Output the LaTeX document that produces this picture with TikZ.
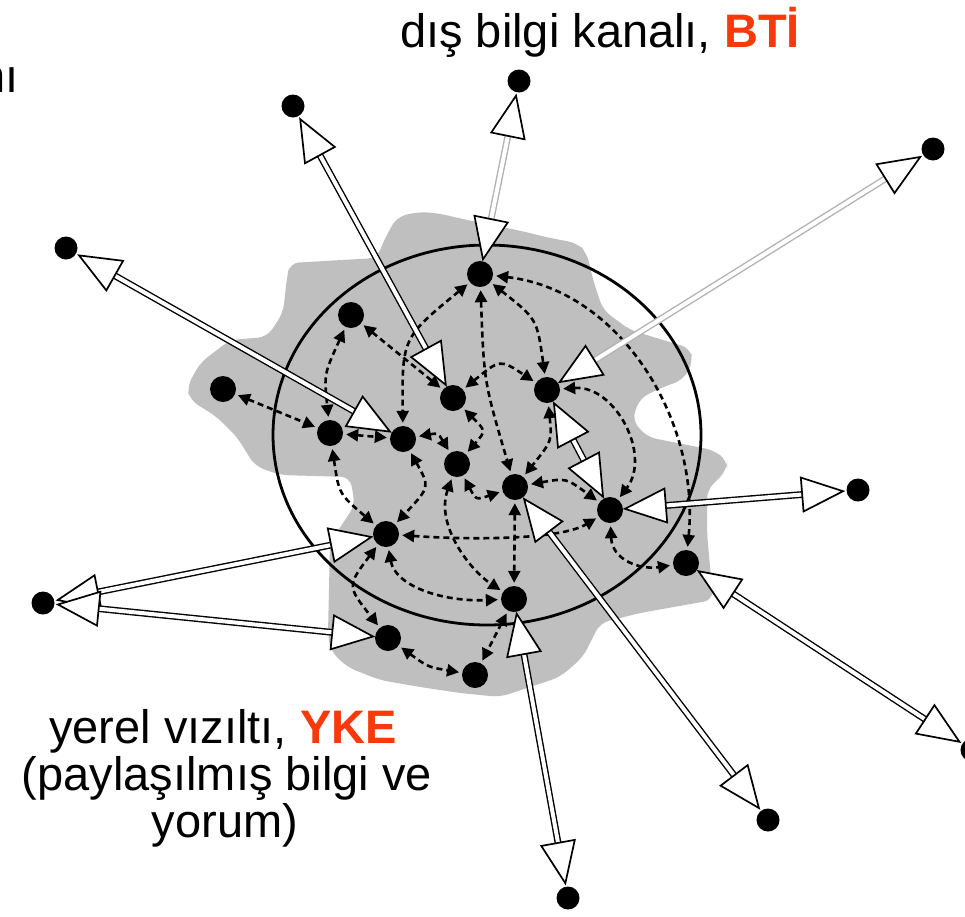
\documentclass[tikz,border=0pt]{standalone}
\usepackage{fontspec}
\setmainfont{Liberation Sans}
\usetikzlibrary{calc,arrows.meta}
\definecolor{hot}{RGB}{250,56,10}
\definecolor{blobgray}{RGB}{191,191,191}
\pgfdeclarelayer{back}
\pgfdeclarelayer{links}
\pgfsetlayers{back,links,main}

\tikzset{
  dot/.style={circle, fill=black, minimum size=26pt, inner sep=0pt},
  fardot/.style={circle, fill=black, minimum size=23pt, inner sep=0pt},
  dlink/.style={line width=2.6pt, dash pattern=on 6pt off 4pt,
    {Triangle[length=12pt,width=12pt]}-{Triangle[length=12pt,width=12pt]},
    shorten <=3pt, shorten >=3pt},
  shaft/.style={line width=1.4pt, double=white, double distance=4pt},
  headstyle/.style={fill=white, draw=black, line width=1.7pt, line join=miter},
  txt/.style={font=\fontsize{47}{47}\selectfont, inner sep=0pt},
}

% white arrow head whose tip sits next to node #1, pointing away from node #2
\newcommand\hollowhead[2]{%
  \coordinate (hb) at ($(#1)!56pt!(#2)$);
  \filldraw[headstyle] ($(#1)!15pt!(#2)$) -- ($(hb)!17pt!90:(#1)$)
    -- ($(hb)!17pt!-90:(#1)$) -- cycle;}
% two-headed hollow channel between two nodes
\newcommand\hollowlink[3][black]{%
  \draw[shaft, draw=#1] ($(#2)!50pt!(#3)$) -- ($(#3)!50pt!(#2)$);
  \hollowhead{#2}{#3}\hollowhead{#3}{#2}}

\begin{document}
\begin{tikzpicture}[x=1pt, y=-1pt]
\useasboundingbox (0,0) rectangle (965,916);

% ---- members of the local cluster ----
\node[dot] (A) at (480,274) {};
\node[dot] (B) at (351,315) {};
\node[dot] (C) at (223,389) {};
\node[dot] (D) at (453,398) {};
\node[dot] (E) at (547,390) {};
\node[dot] (F) at (330,433) {};
\node[dot] (G) at (403,439) {};
\node[dot] (H) at (457,464) {};
\node[dot] (I) at (515,487) {};
\node[dot] (J) at (610,510) {};
\node[dot] (K) at (386,534) {};
\node[dot] (L) at (686,563) {};
\node[dot] (M) at (514,599) {};
\node[dot] (N) at (388,638) {};
\node[dot] (P) at (475,675) {};

% ---- distant partners ----
\node[fardot] (O1) at (293,106) {};
\node[fardot] (O2) at (519,81) {};
\node[fardot] (O3) at (933,149) {};
\node[fardot] (O4) at (66,248) {};
\node[fardot] (O5) at (858,490) {};
\node[fardot] (O6) at (43,603) {};
\node[fardot] (O7) at (972,750) {};
\node[fardot] (O8) at (768,820) {};
\node[fardot] (O9) at (568,898) {};

% ---- texts ----
\node[txt, anchor=base] (top) at (600,47)
  {dış bilgi kanalı, \textcolor{hot}{\bfseries BTİ}};
\node[txt, anchor=base east] (cut) at (19,92) {nı};
\node[txt, anchor=base] (b1) at (223,743)
  {yerel vızıltı, \textcolor{hot}{\bfseries YKE}};
\node[txt, anchor=base] (b2) at (227,790) {(paylaşılmış bilgi ve};
\node[txt, anchor=base] (b3) at (225,837) {yorum)};

% ---- grey buzz area and the cluster boundary ----
\begin{pgfonlayer}{back}
  \fill[white] (0,0) rectangle (965,916);
  \fill[blobgray, rounded corners=9pt]
    (290,263) -- (377,258) -- (385,238) -- (397,217) -- (417,212) -- (437,213)
    -- (467,220) -- (517,230) -- (550,238) -- (577,243) -- (587,253)
    -- (593,280) -- (603,310) -- (630,330) -- (663,340) -- (690,348)
    -- (693,362) -- (683,380) -- (663,387) -- (640,398) -- (632,420)
    -- (647,437) -- (713,450) -- (727,460) -- (727,470) -- (707,490)
    -- (707,533) -- (713,600) -- (640,613) -- (600,623) -- (583,657)
    -- (560,677) -- (500,697) -- (460,693) -- (420,687) -- (380,680)
    -- (347,667) -- (330,650) -- (328,633) -- (330,543) -- (335,535)
    -- (355,505) -- (350,477) -- (280,475) -- (255,466) -- (237,437)
    -- (217,417) -- (190,400) -- (187,387) -- (200,363) -- (230,340)
    -- (267,337) -- (283,313) -- (287,277) -- cycle;
  \draw[line width=2.8pt] (487,435) ellipse [x radius=214, y radius=190];
\end{pgfonlayer}

\begin{pgfonlayer}{links}
  % local exchanges
  \draw[dlink] (C) -- (F);
  \draw[dlink] (F) -- (G);
  \draw[dlink] (B) .. controls (324,374) .. (F);
  \draw[dlink] (B) -- (D);
  \draw[dlink] (A) .. controls (402,338) .. (G);
  \draw[dlink] (A) .. controls (484,382) .. (I);
  \draw[dlink] (A) .. controls (537,319) .. (E);
  \draw[dlink] (A) .. controls (620,290) and (700,420) .. (L);
  \draw[dlink] (E) .. controls (615,385) and (652,455) .. (J);
  \draw[dlink] (E) .. controls (552,441) .. (I);
  \draw[dlink] (D) .. controls (500,359) .. (E);
  \draw[dlink] (D) .. controls (486,431) .. (H);
  \draw[dlink] (G) .. controls (438,433) .. (H);
  \draw[dlink] (H) .. controls (476,500) .. (I);
  \draw[dlink] (G) .. controls (430,487) .. (K);
  \draw[dlink] (F) .. controls (339,494) .. (K);
  \draw[dlink] (K) .. controls (470,540) and (560,540) .. (J);
  \draw[dlink] (H) .. controls (435,525) and (470,570) .. (M);
  \draw[dlink] (K) .. controls (395,585) and (440,602) .. (M);
  \draw[dlink] (I) -- (M);
  \draw[dlink] (M) -- (P);
  \draw[dlink] (K) .. controls (347,586) .. (N);
  \draw[dlink] (N) .. controls (428,667) .. (P);
  \draw[dlink] (I) .. controls (566,478) .. (J);
  \draw[dlink] (J) .. controls (612,560) and (640,570) .. (L);

  % outside channels
  \hollowlink{O1}{D}
  \hollowlink[gray!60]{O2}{A}
  \hollowlink[gray!60]{O3}{E}
  \hollowlink{O4}{G}
  \hollowlink{O5}{J}
  \hollowlink{O6}{K}
  \hollowlink{O6}{N}
  \hollowlink{O7}{L}
  \hollowlink{O8}{I}
  \hollowlink{O9}{M}
  \hollowlink{E}{J}
\end{pgfonlayer}
\end{tikzpicture}
\end{document}
